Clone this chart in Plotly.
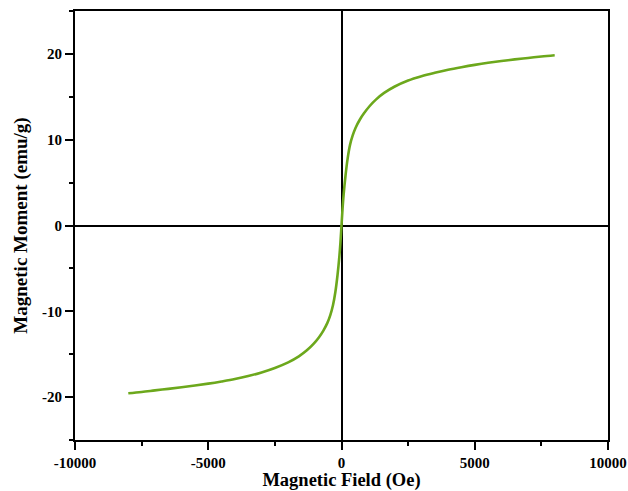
import plotly.graph_objects as go

# Magnetisation curve (M vs H)
field_oe = [-8000, -7500, -7000, -6500, -6000, -5500, -5000, -4500, -4000, -3500, -3000,
            -2500, -2000, -1600, -1300, -1050, -850, -680, -530, -420, -320, -230, -150,
            -80, -40, 0,
            40, 80, 150, 230, 320, 420, 530, 680, 850, 1050, 1300, 1600, 2000, 2500,
            3000, 3500, 4000, 4500, 5000, 5500, 6000, 6500, 7000, 7500, 8000]
moment_emu_g = [-19.55, -19.4, -19.22, -19.04, -18.85, -18.65, -18.43, -18.18, -17.9, -17.55, -17.12,
                -16.6, -15.95, -15.25, -14.55, -13.8, -13.05, -12.25, -11.35, -10.45, -9.3, -7.75, -5.8,
                -3.6, -2.0, 0.0,
                2.0, 3.6, 5.8, 7.8, 9.4, 10.5, 11.4, 12.3, 13.1, 13.9, 14.7, 15.45, 16.2, 16.9,
                17.4, 17.8, 18.15, 18.45, 18.72, 18.96, 19.17, 19.36, 19.53, 19.7, 19.85]

x_ticks = [-10000, -5000, 0, 5000, 10000]
x_tick_text = ["-10000", "-5000", "0", "5000", "10000"]
y_ticks = [-20, -10, 0, 10, 20]
y_tick_text = ["-20", "-10", "0", "10", "20"]

FONT = "Liberation Serif"

fig = go.Figure()
fig.add_trace(go.Scatter(
    x=field_oe, y=moment_emu_g, mode="lines",
    line=dict(color="#6CA81C", width=2.6, shape="spline", smoothing=1.0),
    showlegend=False,
))

axis_common = dict(
    showline=True, linecolor="black", linewidth=2, mirror=True,
    ticks="outside", ticklen=8, tickwidth=2, tickcolor="black",
    showgrid=False, zeroline=True, zerolinecolor="black", zerolinewidth=2,
    automargin=False,
    tickfont=dict(family=FONT, size=15, color="black", weight="bold"),
)

fig.update_xaxes(
    range=[-10000, 10000], tickvals=x_ticks, ticktext=x_tick_text,
    minor=dict(dtick=2500, tick0=0, ticklen=4, tickwidth=2, tickcolor="black", ticks="outside"),
    title=dict(text="<b>Magnetic Field (Oe)</b>", font=dict(family=FONT, size=18.5, color="black"),
               standoff=7),
    **axis_common,
)
fig.update_yaxes(
    range=[-25, 25], tickvals=y_ticks, ticktext=y_tick_text,
    minor=dict(dtick=5, tick0=0, ticklen=4, tickwidth=2, tickcolor="black", ticks="outside"),
    title=dict(text="<b>Magnetic Moment (emu/g)</b>", font=dict(family=FONT, size=19, color="black"),
               standoff=9),
    **axis_common,
)

fig.update_layout(
    width=628, height=491,
    margin=dict(l=75, r=20, t=11, b=51),
    paper_bgcolor="white", plot_bgcolor="white",
)

fig.write_html("out.html")
